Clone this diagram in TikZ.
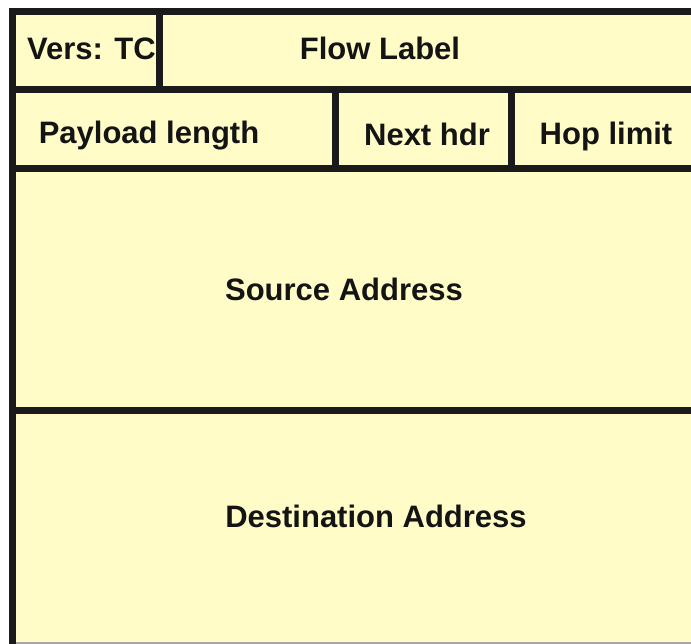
\documentclass[tikz,border=0pt]{standalone}
\usepackage{fontspec}
\setmainfont{Liberation Sans}
\definecolor{cellfill}{HTML}{FFFCC8}
\definecolor{rule}{HTML}{1A1A1A}
\definecolor{ink}{HTML}{141414}
\tikzset{
  field/.style={inner sep=0pt, text=ink, font=\bfseries\fontsize{31}{37}\selectfont, anchor=center},
  border/.style={draw=rule, line width=7pt, line join=miter},
  divider/.style={draw=rule, line width=7pt},
}
\begin{document}
\begin{tikzpicture}[x=1pt, y=-1pt]
  \useasboundingbox (0,0) rectangle (691,644);
  % paper and header background
  \fill[white] (0,0) rectangle (691,644);
  \fill[cellfill] (12.5,11.5) rectangle (691,642);
  \draw[draw=gray!70, line width=1.5pt] (16,642.8) -- (691,642.8);

  % outer frame (top and left edges)
  \draw[border] (691,11.5) -- (12.5,11.5) -- (12.5,644);

  % row separators
  \draw[divider] (12.5,89.5) -- (691,89.5);
  \draw[divider] (12.5,168.5) -- (691,168.5);
  \draw[divider] (12.5,410.5) -- (691,410.5);

  % column separators
  \draw[divider] (159,11.5) -- (159,89.5);
  \draw[divider] (335,89.5) -- (335,168.5);
  \draw[divider] (511.5,89.5) -- (511.5,168.5);

  % field labels
  \node[field] (vers) at (91.5,49) {Vers: TC};
  \node[field] (flow) at (380,48.5) {Flow Label};
  \node[field] (payload) at (149,135.5) {Payload length};
  \node[field] (nexthdr) at (427,134.5) {Next hdr};
  \node[field] (hoplimit) at (606,136) {Hop limit};
  \node[field] (src) at (344,289) {Source Address};
  \node[field] (dst) at (376,516.5) {Destination Address};
\end{tikzpicture}
\end{document}
